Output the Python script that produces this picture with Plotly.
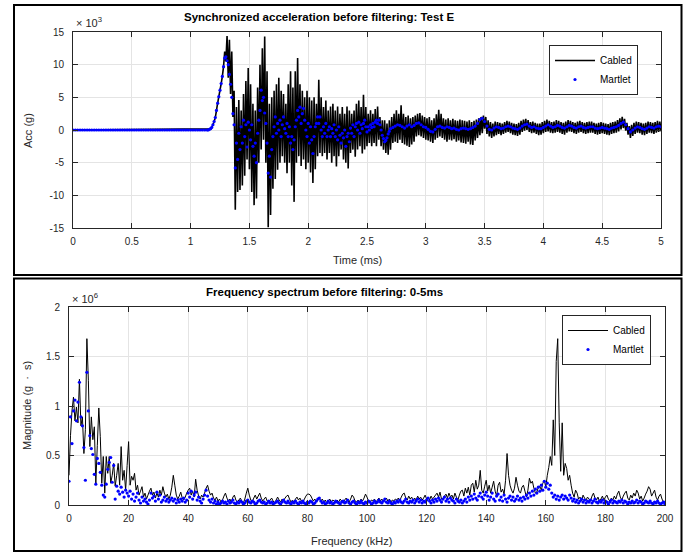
import plotly.graph_objects as go

# ================= TOP PANEL: acceleration (values in x10^3 g) =================
# Martlet, flat pre-impact part (t = 0.00 ... 1.14 ms, step 0.02)
martlet_flat_acc = [
    0.0, 0.0, 0.0, 0.0, 0.0, 0.0, 0.0, 0.0, 0.0, 0.0,
    0.0, 0.0, 0.0, 0.0, 0.0, 0.0, 0.0, 0.0, 0.0, 0.0,
    0.0, 0.0, 0.0, 0.0, 0.0, 0.0, 0.0, 0.0, 0.0, 0.0,
    0.0, 0.0, 0.0, 0.0, 0.0, 0.0, 0.0, 0.0, 0.0, 0.0,
    0.0, 0.0, 0.0, 0.0, 0.0, 0.0, 0.0, 0.0, 0.0, 0.0,
    0.0, 0.0, 0.0, 0.0, 0.0, 0.0, 0.0, 0.0,
]
# Martlet, impact part (t = 1.15 ... 2.70 ms, step 0.01)
martlet_impact_acc = [
    0.0, 0.1, 0.2, 0.4, 0.8, 1.3, 1.9, 3.0, 4.1, 5.1,
    6.1, 7.1, 8.2, 9.7, 11.0, 11.2, 10.6, 10.0, 8.5, 7.0,
    5.0, 2.5, 0.8, -5.8, -2.0, -4.5, -0.5, -3.0, 0.5, -2.0,
    1.5, -1.0, 0.8, -2.6, 1.2, 0.0, -1.5, 0.8, -2.5, -4.0,
    -2.0, -5.0, -0.5, 1.5, 3.0, 6.1, 4.5, 5.0, 2.6, 1.0,
    -2.0, -6.6, -4.0, -7.2, -3.0, -1.0, 0.5, 2.0, -0.5, 1.0,
    0.0, 1.5, -1.0, 0.8, 2.0, 0.2, -0.5, 1.0, -1.0, 0.5,
    -2.0, -1.0, -3.0, -1.5, 0.5, 1.5, 3.0, 2.0, 3.5, 1.0,
    2.5, 3.3, 1.5, 0.0, -1.0, 1.0, -2.0, 0.5, -1.5, -3.6,
    -1.0, 0.5, 1.0, 2.0, 1.0, 2.0, 0.0, -1.0, 0.5, -0.5,
    1.0, -1.0, 0.0, 0.5, -1.0, 0.2, -0.5, 0.8, -1.0, 0.0,
    -1.5, 0.5, -0.8, -2.0, -0.5, -1.2, 0.0, -2.5, -1.0, -0.5,
    -1.8, 0.3, -0.5, 0.8, -1.0, 0.5, 1.0, 0.0, 1.2, -0.5,
    0.8, 0.2, 1.0, 1.5, 0.5, -0.3, 0.5, 0.0, 0.8, 0.4,
    1.0, 0.5, 1.2, 1.5, 1.0, 1.5, 0.8, 0.0, -0.8, -1.3,
    -1.8, -1.6, -1.2, -0.6, -0.2, 0.2,
]
# Martlet, decay part (t = 2.72 ... 5.00 ms, step 0.02)
martlet_tail_acc = [
    0.4, 0.6, 0.8, 0.7, 0.5, 0.3, 0.6, 0.8, 0.5, 0.7,
    1.0, 1.1, 0.8, 0.5, 0.4, 0.1, -0.2, -0.3, 0.1, 0.5,
    0.6, 0.4, 0.3, 0.5, 0.4, 0.2, 0.3, 0.1, 0.0, 0.2,
    0.3, 0.2, 0.1, 0.2, 0.4, 0.6, 1.0, 1.6, 1.8, 1.3,
    0.6, 0.1, 0.0, 0.3, 0.5, 0.4, 0.2, 0.3, 0.5, 0.6,
    0.5, 0.3, 0.2, 0.1, 0.3, 0.6, 0.8, 0.9, 0.6, 0.4,
    0.5, 0.3, 0.2, 0.2, 0.4, 0.6, 0.8, 0.6, 0.4, 0.5,
    0.7, 0.6, 0.4, 0.3, 0.5, 0.7, 0.6, 0.4, 0.3, 0.5,
    0.6, 0.4, 0.3, 0.4, 0.5, 0.5, 0.3, 0.2, 0.3, 0.4,
    0.3, 0.2, 0.1, 0.3, 0.4, 0.5, 0.7, 1.0, 1.2, 0.8,
    0.2, -0.3, 0.0, 0.3, 0.5, 0.4, 0.2, 0.1, 0.3, 0.5,
    0.4, 0.3, 0.5, 0.6, 0.5,
]
# Cabled: flat pre-impact start, then t = 1.17 ... 5.00 ms, step 0.01
cabled_flat_acc = [0.0]
cabled_active_acc = [
    # 1.17 - 1.29
    0.2, 0.4, 0.8, 1.3, 1.9, 3.0, 4.1, 5.1, 6.1, 7.1, 8.2, 9.7, 12.0,
    # 1.30 - 2.70
    10.5, 14.4, 8.0, 13.8, 5.5, 12.0, 2.0, 6.0, -12.2, 3.5,
    -9.5, 4.6, -9.2, 3.0, -8.5, 5.5, -7.0, 7.5, -4.5, 9.5,
    -6.0, 7.0, -9.5, 4.0, -11.5, 3.0, -10.5, 6.5, -5.0, 10.0,
    -3.0, 12.5, -1.5, 14.3, -5.0, 9.0, -14.9, 4.0, -13.0, 5.0,
    -9.0, 6.0, -7.5, 7.0, -6.1, 8.0, -5.0, 6.0, -4.0, 5.5,
    -5.0, 4.0, -6.6, 7.0, -5.0, 9.0, -8.5, 6.5, -11.0, 9.0,
    -5.0, 11.0, -4.0, 7.0, -5.5, 6.0, -4.5, 5.0, -6.0, 6.0,
    -5.0, 5.0, -6.5, 4.5, -8.1, 5.0, -6.0, 4.0, -4.0, 7.7,
    -3.5, 5.0, -4.0, 3.5, -3.5, 4.5, -4.5, 3.0, -3.5, 3.6,
    -5.0, 4.0, -4.0, 3.0, -5.6, 3.6, -4.0, 2.5, -3.0, 3.5,
    -4.5, 2.5, -5.0, 3.6, -5.9, 3.0, -3.5, 2.5, -3.0, 3.0,
    -4.1, 4.0, -3.0, 4.5, -2.5, 3.5, -3.6, 5.4, -3.0, 3.5,
    -2.5, 2.5, -2.0, 3.0, -2.5, 2.5, -2.0, 3.2, -2.5, 3.6,
    -1.5, 2.0, -2.5, 1.5, -3.0, 1.5, -3.5, 1.0, -3.8, 1.5,
    -3.0,
    # 2.71 - 3.61
    2.0, -2.0, 2.5, -1.8, 3.0, -2.0, 2.5, -1.5, 3.8, -2.0,
    2.5, -2.2, 2.0, -2.4, 2.2, -2.6, 1.8, -2.2, 2.0, -1.8,
    2.2, -1.0, 2.5, -0.8, 2.6, -1.0, 2.2, -1.2, 2.0, -1.5,
    1.8, -1.6, 2.0, -1.8, 1.5, -2.0, 1.8, -1.5, 2.4, -1.2,
    3.1, -1.0, 2.5, -1.2, 1.8, -1.5, 1.6, -1.8, 1.8, -1.5,
    1.5, -1.6, 1.7, -1.4, 1.5, -1.8, 1.4, -1.6, 1.6, -1.9,
    1.5, -2.0, 1.4, -2.1, 1.3, -1.8, 1.5, -2.2, 1.2, -2.3,
    1.4, -1.6, 1.6, -1.2, 1.8, -0.8, 2.0, -0.5, 2.2, 0.2,
    2.0, -0.6, 1.5, -1.0, 1.2, -1.2, 1.0, -1.0, 1.3, -0.8,
    1.2,
    # 3.62 - 5.00
    -0.6, 1.1, -0.8, 1.0, -0.6, 1.2, -0.4, 1.4, -0.3, 1.3,
    -0.5, 1.1, -0.7, 1.0, -0.8, 0.9, -0.9, 1.1, -0.7, 1.4,
    -0.3, 1.6, -0.1, 1.7, 0.0, 1.5, -0.3, 1.2, -0.5, 1.3,
    -0.4, 1.1, -0.6, 1.0, -0.8, 1.0, -0.7, 1.2, -0.5, 1.4,
    -0.3, 1.6, -0.2, 1.4, -0.4, 1.2, -0.5, 1.3, -0.4, 1.5,
    -0.3, 1.4, -0.4, 1.2, -0.6, 1.1, -0.7, 1.3, -0.4, 1.5,
    -0.2, 1.4, -0.3, 1.2, -0.5, 1.1, -0.6, 1.3, -0.4, 1.4,
    -0.3, 1.2, -0.5, 1.1, -0.6, 1.2, -0.5, 1.3, -0.4, 1.3,
    -0.4, 1.1, -0.6, 1.0, -0.7, 1.1, -0.6, 1.2, -0.5, 1.1,
    -0.6, 1.0, -0.7, 0.9, -0.8, 1.1, -0.6, 1.2, -0.5, 1.3,
    -0.4, 1.5, -0.2, 1.8, 0.1, 2.0, 0.3, 1.7, -0.1, 1.1,
    -0.7, 0.6, -1.2, 0.8, -0.9, 1.1, -0.6, 1.3, -0.4, 1.2,
    -0.5, 1.1, -0.7, 1.0, -0.8, 1.1, -0.6, 1.3, -0.4, 1.2,
    -0.5, 1.1, -0.6, 1.2, -0.4, 1.4, -0.3, 1.3, -0.2,
]

martlet_time = ([round(0.02 * i, 2) for i in range(len(martlet_flat_acc))]
                + [round(1.15 + 0.01 * i, 2) for i in range(len(martlet_impact_acc))]
                + [round(2.72 + 0.02 * i, 2) for i in range(len(martlet_tail_acc))])
martlet_acc = martlet_flat_acc + martlet_impact_acc + martlet_tail_acc
cabled_time = [0.0] + [round(1.17 + 0.01 * i, 2) for i in range(len(cabled_active_acc))]
cabled_acc = cabled_flat_acc + cabled_active_acc

time_ticks = [0, 0.5, 1, 1.5, 2, 2.5, 3, 3.5, 4, 4.5, 5]
time_ticktext = ["0", "0.5", "1", "1.5", "2", "2.5", "3", "3.5", "4", "4.5", "5"]
acc_ticks = [-15, -10, -5, 0, 5, 10, 15]
acc_ticktext = ["-15", "-10", "-5", "0", "5", "10", "15"]

# ================= BOTTOM PANEL: spectrum (values in x10^6 g.s), 0.5 kHz step =================
cabled_mag = [
    0.30, 0.70, 0.95, 1.09, 0.85, 0.99, 0.83, 1.27, 0.80, 0.89,
    0.52, 0.76, 1.68, 1.26, 0.59, 0.89, 0.66, 0.79, 0.22, 0.60,
    0.98, 0.69, 0.22, 0.49, 0.12, 0.49, 0.32, 0.49, 0.22, 0.30,
    0.42, 0.19, 0.30, 0.42, 0.20, 0.59, 0.25, 0.35, 0.15, 0.40,
    0.64, 0.20, 0.29, 0.25, 0.32, 0.15, 0.20, 0.10, 0.14, 0.185,
    0.08, 0.12, 0.06, 0.10, 0.14, 0.17, 0.10, 0.13, 0.07, 0.12,
    0.08, 0.15, 0.10, 0.185, 0.12, 0.08, 0.11, 0.06, 0.10, 0.18,
    0.30, 0.20, 0.10, 0.06, 0.09, 0.13, 0.07, 0.05, 0.08, 0.12,
    0.15, 0.17, 0.10, 0.14, 0.08, 0.26, 0.15, 0.09, 0.06, 0.10,
    0.08, 0.12, 0.17, 0.20, 0.14, 0.10, 0.12, 0.07, 0.05, 0.08,
    0.04, 0.06, 0.03, 0.05, 0.09, 0.12, 0.07, 0.04, 0.06, 0.03,
    0.08, 0.10, 0.05, 0.03, 0.05, 0.07, 0.04, 0.02, 0.06, 0.12,
    0.17, 0.10, 0.05, 0.03, 0.07, 0.10, 0.06, 0.09, 0.12, 0.07,
    0.04, 0.06, 0.08, 0.04, 0.03, 0.05, 0.07, 0.04, 0.02, 0.05,
    0.08, 0.05, 0.03, 0.06, 0.04, 0.07, 0.09, 0.10, 0.06, 0.03,
    0.05, 0.03, 0.06, 0.08, 0.05, 0.07, 0.04, 0.03, 0.06, 0.09,
    0.11, 0.11, 0.10, 0.07, 0.04, 0.06, 0.03, 0.05, 0.07, 0.04,
    0.06, 0.03, 0.05, 0.02, 0.04, 0.06, 0.03, 0.05, 0.04, 0.02,
    0.05, 0.03, 0.06, 0.04, 0.02, 0.05, 0.07, 0.04, 0.03, 0.06,
    0.10, 0.08, 0.04, 0.03, 0.05, 0.03, 0.06, 0.04, 0.07, 0.11,
    0.08, 0.04, 0.03, 0.05, 0.04, 0.06, 0.03, 0.05, 0.07, 0.04,
    0.06, 0.03, 0.05, 0.07, 0.04, 0.06, 0.03, 0.05, 0.04, 0.06,
    0.05, 0.07, 0.04, 0.08, 0.11, 0.12, 0.07, 0.05, 0.09, 0.06,
    0.08, 0.04, 0.07, 0.05, 0.09, 0.06, 0.08, 0.05, 0.07, 0.10,
    0.06, 0.08, 0.05, 0.09, 0.06, 0.08, 0.10, 0.12, 0.08, 0.13,
    0.06, 0.05, 0.09, 0.11, 0.07, 0.12, 0.08, 0.10, 0.06, 0.12,
    0.08, 0.05, 0.10, 0.14, 0.15, 0.09, 0.17, 0.12, 0.18, 0.10,
    0.20, 0.22, 0.13, 0.25, 0.16, 0.20, 0.35, 0.15, 0.12, 0.19,
    0.25, 0.14, 0.20, 0.12, 0.18, 0.24, 0.14, 0.09, 0.20, 0.23,
    0.13, 0.16, 0.11, 0.25, 0.52, 0.30, 0.20, 0.15, 0.12, 0.17,
    0.28, 0.20, 0.14, 0.12, 0.18, 0.20, 0.14, 0.08, 0.15, 0.27,
    0.22, 0.24, 0.17, 0.12, 0.13, 0.18, 0.19, 0.15, 0.22, 0.25,
    0.18, 0.30, 0.38, 0.49, 0.40, 0.86, 0.50, 1.45, 1.68, 0.83,
    0.34, 0.83, 0.30, 0.42, 0.37, 0.25, 0.30, 0.20, 0.12, 0.08,
    0.15, 0.12, 0.06, 0.08, 0.04, 0.10, 0.07, 0.05, 0.08, 0.06,
    0.04, 0.09, 0.12, 0.07, 0.05, 0.08, 0.04, 0.06, 0.09, 0.05,
    0.08, 0.10, 0.06, 0.04, 0.07, 0.05, 0.09, 0.06, 0.11, 0.14,
    0.08, 0.05, 0.09, 0.12, 0.14, 0.07, 0.05, 0.10, 0.07, 0.12,
    0.09, 0.15, 0.12, 0.06, 0.09, 0.04, 0.07, 0.11, 0.14, 0.185,
    0.16, 0.09, 0.12, 0.15, 0.08, 0.05, 0.09, 0.11, 0.06, 0.03,
    0.02,
]
martlet_mag = [
    0.24, 0.89, 0.62, 0.95, 1.06, 0.85, 1.04, 1.24, 0.89, 0.80,
    0.58, 0.25, 1.34, 0.95, 0.70, 0.57, 0.51, 0.31, 0.21, 0.47,
    0.42, 0.33, 0.20, 0.10, 0.08, 0.21, 0.36, 0.43, 0.48, 0.23,
    0.40, 0.06, 0.19, 0.14, 0.11, 0.18, 0.13, 0.08, 0.15, 0.12,
    0.09, 0.14, 0.06, 0.11, 0.04, 0.08, 0.12, 0.05, 0.02, 0.08,
    0.04, 0.06, 0.03, 0.01, 0.05, 0.12, 0.07, 0.09, 0.04, 0.13,
    0.06, 0.10, 0.03, 0.05, 0.08, 0.04, 0.06, 0.03, 0.05, 0.07,
    0.04, 0.06, 0.02, 0.05, 0.03, 0.06, 0.04, 0.07, 0.03, 0.05,
    0.12, 0.08, 0.14, 0.06, 0.10, 0.13, 0.05, 0.08, 0.04, 0.02,
    0.06, 0.10, 0.15, 0.09, 0.05, 0.03, 0.06, 0.02, 0.04, 0.01,
    0.03, 0.01, 0.02, 0.04, 0.02, 0.03, 0.01, 0.04, 0.02, 0.03,
    0.05, 0.02, 0.01, 0.03, 0.02, 0.04, 0.03, 0.01, 0.02, 0.04,
    0.05, 0.03, 0.02, 0.04, 0.03, 0.01, 0.02, 0.04, 0.05, 0.03,
    0.02, 0.03, 0.01, 0.02, 0.04, 0.02, 0.03, 0.01, 0.02, 0.03,
    0.04, 0.02, 0.01, 0.03, 0.05, 0.03, 0.02, 0.04, 0.02, 0.01,
    0.03, 0.02, 0.04, 0.02, 0.01, 0.03, 0.02, 0.04, 0.02, 0.01,
    0.03, 0.02, 0.04, 0.03, 0.01, 0.02, 0.04, 0.06, 0.07, 0.04,
    0.02, 0.03, 0.01, 0.02, 0.04, 0.02, 0.03, 0.01, 0.02, 0.04,
    0.03, 0.02, 0.01, 0.03, 0.04, 0.02, 0.03, 0.05, 0.02, 0.01,
    0.03, 0.04, 0.02, 0.01, 0.03, 0.02, 0.04, 0.02, 0.01, 0.03,
    0.02, 0.04, 0.03, 0.01, 0.02, 0.04, 0.02, 0.03, 0.05, 0.03,
    0.02, 0.04, 0.06, 0.03, 0.02, 0.04, 0.02, 0.01, 0.03, 0.02,
    0.04, 0.03, 0.05, 0.03, 0.02, 0.04, 0.06, 0.03, 0.02, 0.04,
    0.03, 0.05, 0.02, 0.04, 0.06, 0.03, 0.05, 0.02, 0.04, 0.03,
    0.05, 0.07, 0.04, 0.02, 0.05, 0.03, 0.06, 0.04, 0.07, 0.05,
    0.03, 0.06, 0.08, 0.04, 0.06, 0.03, 0.07, 0.05, 0.04, 0.02,
    0.06, 0.04, 0.03, 0.05, 0.02, 0.04, 0.06, 0.03, 0.08, 0.05,
    0.09, 0.06, 0.11, 0.07, 0.05, 0.09, 0.12, 0.08, 0.06, 0.10,
    0.13, 0.09, 0.05, 0.08, 0.12, 0.06, 0.04, 0.09, 0.11, 0.05,
    0.08, 0.04, 0.10, 0.06, 0.03, 0.07, 0.09, 0.05, 0.08, 0.04,
    0.06, 0.09, 0.05, 0.07, 0.04, 0.08, 0.06, 0.10, 0.07, 0.12,
    0.09, 0.14, 0.10, 0.16, 0.12, 0.18, 0.14, 0.20, 0.15, 0.24,
    0.18, 0.22, 0.16, 0.20, 0.12, 0.08, 0.10, 0.06, 0.09, 0.05,
    0.08, 0.10, 0.06, 0.09, 0.07, 0.05, 0.10, 0.07, 0.04, 0.06,
    0.03, 0.05, 0.02, 0.04, 0.06, 0.03, 0.05, 0.02, 0.04, 0.03,
    0.05, 0.02, 0.04, 0.06, 0.03, 0.02, 0.04, 0.03, 0.05, 0.02,
    0.04, 0.03, 0.01, 0.03, 0.05, 0.02, 0.04, 0.03, 0.02, 0.04,
    0.03, 0.05, 0.02, 0.04, 0.03, 0.01, 0.03, 0.02, 0.04, 0.02,
    0.03, 0.05, 0.02, 0.04, 0.03, 0.01, 0.02, 0.04, 0.03, 0.02,
    0.04, 0.02, 0.01, 0.03, 0.02, 0.04, 0.02, 0.01, 0.02, 0.03,
    0.01,
]
freq_khz = [0.5 * i for i in range(len(cabled_mag))]
freq_khz_martlet = [0.5 * i for i in range(len(martlet_mag))]

freq_ticks = [0, 20, 40, 60, 80, 100, 120, 140, 160, 180, 200]
freq_ticktext = ["0", "20", "40", "60", "80", "100", "120", "140", "160", "180", "200"]
mag_ticks = [0, 0.5, 1, 1.5, 2]
mag_ticktext = ["0", "0.5", "1", "1.5", "2"]

# ================= FIGURE =================
W, H = 688, 552
FONT = "Liberation Sans, Arial, Helvetica, sans-serif"
AXC = "#262626"

def px_x(x):
    return x / W

def px_y(y):
    return 1 - y / H

fig = go.Figure()
fig.add_trace(go.Scatter(x=cabled_time, y=cabled_acc, mode="lines", name="Cabled",
                         line=dict(color="black", width=1.6, simplify=False),
                         xaxis="x", yaxis="y", legend="legend"))
fig.add_trace(go.Scatter(x=martlet_time, y=martlet_acc, mode="markers", name="Martlet",
                         marker=dict(color="#0000ff", size=3.2, line=dict(width=0)),
                         xaxis="x", yaxis="y", legend="legend"))
fig.add_trace(go.Scatter(x=freq_khz, y=cabled_mag, mode="lines", name="Cabled",
                         line=dict(color="black", width=1, simplify=False),
                         xaxis="x2", yaxis="y2", legend="legend2"))
fig.add_trace(go.Scatter(x=freq_khz_martlet, y=martlet_mag, mode="markers", name="Martlet",
                         marker=dict(color="#0000ff", size=3.2, line=dict(width=0)),
                         xaxis="x2", yaxis="y2", legend="legend2"))

axis_common = dict(showline=True, linecolor=AXC, linewidth=1, mirror="ticks",
                   ticks="inside", ticklen=5, tickcolor=AXC, tickwidth=1,
                   showgrid=True, gridcolor="#e4e4e4", gridwidth=1, zeroline=False,
                   tickfont=dict(family=FONT, size=10, color=AXC))

fig.update_layout(
    width=W, height=H, autosize=False,
    margin=dict(l=0, r=0, t=0, b=0, autoexpand=False),
    paper_bgcolor="white", plot_bgcolor="white",
    font=dict(family=FONT, color=AXC),
    xaxis=dict(domain=[px_x(73), px_x(661)], range=[0, 5], anchor="y",
               tickvals=time_ticks, ticktext=time_ticktext, ticklabelstandoff=4,
               **axis_common),
    yaxis=dict(domain=[px_y(228), px_y(32)], range=[-15, 15], anchor="x",
               tickvals=acc_ticks, ticktext=acc_ticktext, ticklabelstandoff=6,
               **axis_common),
    xaxis2=dict(domain=[px_x(69), px_x(665)], range=[0, 200], anchor="y2",
                tickvals=freq_ticks, ticktext=freq_ticktext, ticklabelstandoff=4,
                **axis_common),
    yaxis2=dict(domain=[px_y(505), px_y(307)], range=[0, 2], anchor="x2",
                tickvals=mag_ticks, ticktext=mag_ticktext, ticklabelstandoff=6,
                **axis_common),
    legend=dict(x=px_x(549), y=px_y(45), xanchor="left", yanchor="top",
                bgcolor="white", bordercolor=AXC, borderwidth=1, itemwidth=40,
                font=dict(family=FONT, size=10, color="black"), tracegroupgap=0),
    legend2=dict(x=px_x(562), y=px_y(315), xanchor="left", yanchor="top",
                 bgcolor="white", bordercolor=AXC, borderwidth=1, itemwidth=40,
                 font=dict(family=FONT, size=10, color="black"), tracegroupgap=0),
    showlegend=True,
)

annotations = [
    dict(text="<b>Synchronized acceleration before filtering: Test E</b>",
         x=px_x(319), y=px_y(17), xanchor="center", yanchor="middle",
         font=dict(family=FONT, size=11.5, color="black")),
    dict(text="<b>Frequency spectrum before filtering: 0-5ms</b>",
         x=px_x(324), y=px_y(292), xanchor="center", yanchor="middle",
         font=dict(family=FONT, size=11.5, color="black")),
    dict(text="Time (ms)", x=px_x(357), y=px_y(260), xanchor="center", yanchor="middle",
         font=dict(family=FONT, size=11, color=AXC)),
    dict(text="Frequency (kHz)", x=px_x(351), y=px_y(541), xanchor="center", yanchor="middle",
         font=dict(family=FONT, size=11, color=AXC)),
    dict(text="Acc (g)", x=px_x(28), y=px_y(131), xanchor="center", yanchor="middle",
         textangle=-90, font=dict(family=FONT, size=11, color=AXC)),
    dict(text="Magnitude (g  \u00b7  s)", x=px_x(27), y=px_y(406), xanchor="center",
         yanchor="middle", textangle=-90, font=dict(family=FONT, size=11, color=AXC)),
    dict(text="\u00d7 10<sup>3</sup>", x=px_x(74), y=px_y(22), xanchor="left",
         yanchor="middle", font=dict(family=FONT, size=11, color=AXC)),
    dict(text="\u00d7 10<sup>6</sup>", x=px_x(70), y=px_y(298), xanchor="left",
         yanchor="middle", font=dict(family=FONT, size=11, color=AXC)),
]
for a in annotations:
    a.update(xref="paper", yref="paper", showarrow=False)
fig.update_layout(annotations=annotations)

fig.update_layout(shapes=[
    dict(type="rect", xref="paper", yref="paper",
         x0=px_x(14), x1=px_x(681.5), y0=px_y(275), y1=px_y(5),
         line=dict(color="black", width=2), fillcolor="rgba(0,0,0,0)", layer="above"),
    dict(type="rect", xref="paper", yref="paper",
         x0=px_x(14), x1=px_x(681.5), y0=px_y(551), y1=px_y(278.5),
         line=dict(color="black", width=2), fillcolor="rgba(0,0,0,0)", layer="above"),
])

page_fix = ("document.documentElement.style.margin='0';document.body.style.margin='0';"
            "document.documentElement.style.overflow='hidden';"
            "document.body.style.overflow='hidden';")

fig.write_html("out.html", config={"displayModeBar": False}, post_script=page_fix)
